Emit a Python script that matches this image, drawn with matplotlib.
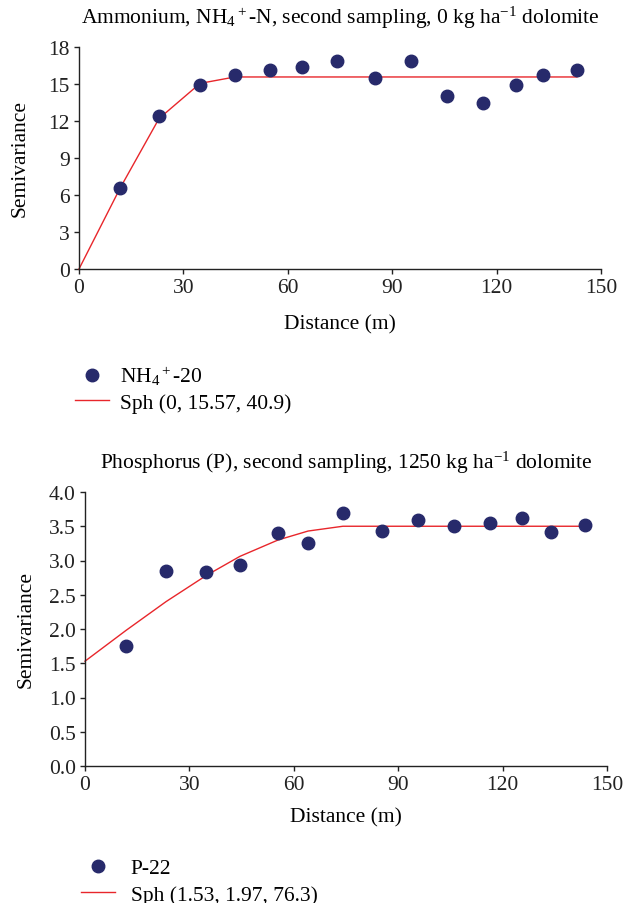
import matplotlib
matplotlib.use('Agg')
import matplotlib.pyplot as plt

plt.rcParams['font.family'] = ['Liberation Serif', 'DejaVu Serif']
plt.rcParams['mathtext.fontset'] = 'custom'
plt.rcParams['mathtext.rm'] = 'Liberation Serif'
plt.rcParams['mathtext.it'] = 'Liberation Serif:italic'

# Ammonium semivariogram
nh4_lag = [11.8, 23.0, 34.8, 44.8, 54.9, 64.1, 74.1, 85.1, 95.4, 105.7, 116.1, 125.6, 133.3, 143.1]
nh4_gamma = [6.57, 12.4, 14.95, 15.7, 16.1, 16.4, 16.9, 15.45, 16.9, 14.0, 13.5, 14.9, 15.7, 16.1]
nh4_fit_x = [0, 11.8, 23.0, 34.8, 44.8, 54.9, 64.1, 74.1, 85.1, 95.4, 105.7, 116.1, 125.6, 133.3, 143.1]
nh4_fit_y = [0, 6.55, 12.2, 15.05, 15.57, 15.57, 15.57, 15.57, 15.57, 15.57, 15.57, 15.57, 15.57, 15.57, 15.57]

# Phosphorus semivariogram
p_lag = [11.8, 23.3, 34.8, 44.5, 55.5, 64.1, 74.1, 85.3, 95.7, 106.0, 116.4, 125.6, 133.8, 143.7]
p_gamma = [1.75, 2.85, 2.83, 2.93, 3.40, 3.25, 3.70, 3.43, 3.59, 3.50, 3.55, 3.62, 3.41, 3.52]
p_fit_x = [0, 11.8, 23.3, 34.8, 44.5, 55.5, 64.1, 74.1, 85.3, 95.7, 106.0, 116.4, 125.6, 133.8, 143.7]
p_fit_y = [1.53, 1.98, 2.40, 2.78, 3.06, 3.30, 3.43, 3.50, 3.50, 3.50, 3.50, 3.50, 3.50, 3.50, 3.50]

dot_color = '#272a6b'
line_color = '#e8262b'
fs = 15.5

fig = plt.figure(figsize=(6.35, 9.04), dpi=100)


def style_axes(ax, yticks, ylabels, ylab_x, xlab_y):
    ax.spines['top'].set_visible(False)
    ax.spines['right'].set_visible(False)
    for sp in ax.spines.values():
        sp.set_color('#222222')
        sp.set_linewidth(1.0)
    ax.set_xlim(0, 150)
    ax.set_xticks([0, 30, 60, 90, 120, 150])
    ax.set_yticks(yticks)
    ax.set_yticklabels(ylabels)
    ax.set_ylim(yticks[0], yticks[-1])
    ax.tick_params(direction='out', length=3.5, width=1, labelsize=fs, colors='#222222', pad=3)
    ax.set_xlabel('Distance (m)', fontsize=fs)
    ax.set_ylabel('Semivariance', fontsize=fs)
    ax.yaxis.set_label_coords(ylab_x, 0.5)
    ax.xaxis.set_label_coords(0.5, xlab_y)


ax1 = fig.add_axes([79 / 635, 1 - 270 / 904, 522 / 635, 222 / 904])
ax1.plot(nh4_fit_x, nh4_fit_y, color=line_color, lw=1.0, label='Sph (0, 15.57, 40.9)', clip_on=False, zorder=2)
ax1.plot(nh4_lag, nh4_gamma, 'o', color=dot_color, ms=9, label='NH$_4$$^+$-20', clip_on=False, zorder=3)
style_axes(ax1, [0, 3, 6, 9, 12, 15, 18], ['0', '3', '6', '9', '12', '15', '18'],
           (30 - 79) / 522, -(315 - 270) / 222)
ax1.set_title('Ammonium, NH$_4$$^+$-N, second sampling, 0 kg ha$^{-1}$ dolomite', fontsize=fs,
              y=(270 - 18) / 222, va='center', pad=0)
h, l = ax1.get_legend_handles_labels()
fig.legend([h[1], h[0]], [l[1], l[0]], loc='upper left', bbox_to_anchor=(75 / 635, 1 - 365 / 904),
           frameon=False, fontsize=fs, handlelength=1.6, labelspacing=0.25, handletextpad=0.5,
           borderpad=0, borderaxespad=0)

ax2 = fig.add_axes([85 / 635, 1 - 767 / 904, 522 / 635, 274 / 904])
ax2.plot(p_fit_x, p_fit_y, color=line_color, lw=1.0, label='Sph (1.53, 1.97, 76.3)', clip_on=False, zorder=2)
ax2.plot(p_lag, p_gamma, 'o', color=dot_color, ms=9, label='P-22', clip_on=False, zorder=3)
style_axes(ax2, [0, 0.5, 1.0, 1.5, 2.0, 2.5, 3.0, 3.5, 4.0],
           ['0.0', '0.5', '1.0', '1.5', '2.0', '2.5', '3.0', '3.5', '4.0'],
           (36 - 85) / 522, -(808 - 767) / 274)
ax2.set_title('Phosphorus (P), second sampling, 1250 kg ha$^{-1}$ dolomite', fontsize=fs,
              y=(767 - 463) / 274, va='center', pad=0)
h, l = ax2.get_legend_handles_labels()
fig.legend([h[1], h[0]], [l[1], l[0]], loc='upper left', bbox_to_anchor=(81 / 635, 1 - 859 / 904),
           frameon=False, fontsize=fs, handlelength=1.6, labelspacing=0.3, handletextpad=0.7,
           borderpad=0, borderaxespad=0)

fig.savefig('out.png', dpi=100)
